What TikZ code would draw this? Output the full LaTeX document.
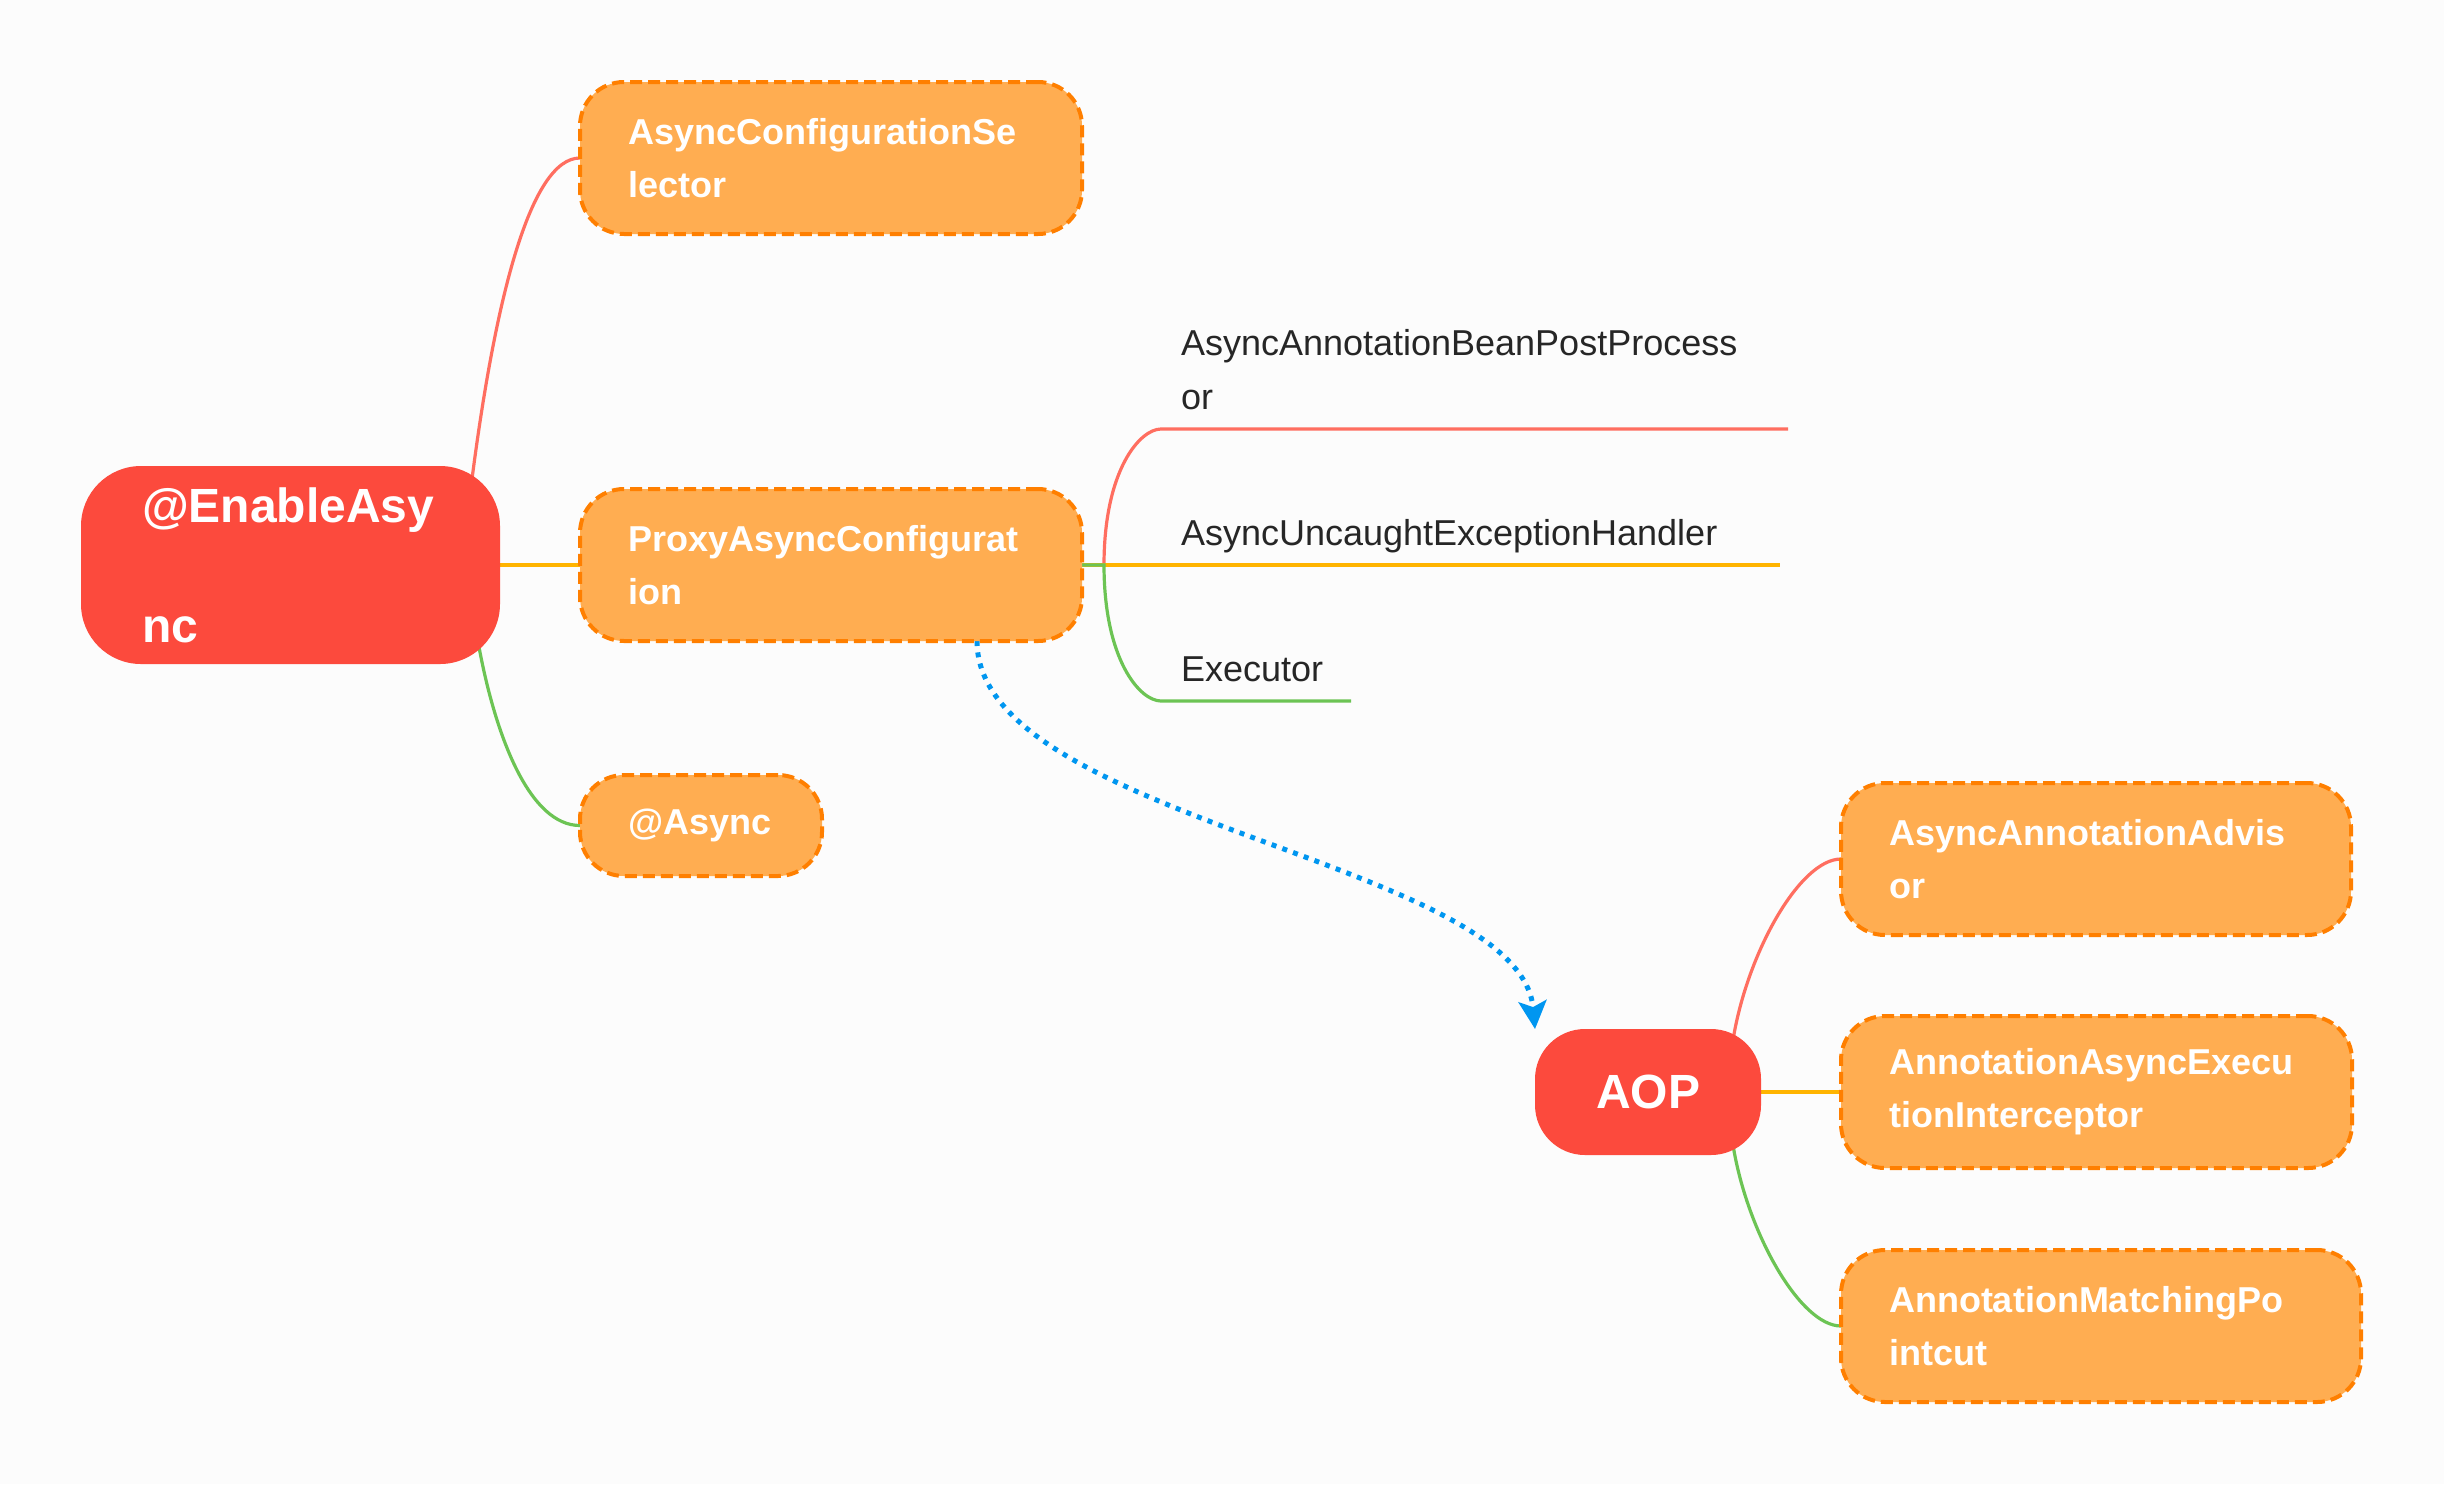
\documentclass[tikz,border=0pt]{standalone}
\usepackage{fontspec}
\setmainfont{Liberation Sans}
\usepackage{xcolor}
\usepackage{tikz}
\usetikzlibrary{positioning}
\usetikzlibrary{arrows.meta}

\definecolor{rootred}{HTML}{FC4A3D}
\definecolor{boxfill}{HTML}{FFAD51}
\definecolor{boxline}{HTML}{FF7F00}
\definecolor{linkred}{HTML}{FF6E60}
\definecolor{linkyellow}{HTML}{FFB400}
\definecolor{linkgreen}{HTML}{6CC454}
\definecolor{arrowblue}{HTML}{0096F0}
\definecolor{plaintext}{HTML}{262626}
\definecolor{page}{HTML}{FCFCFC}

\pgfdeclarelayer{background}
\pgfdeclarelayer{links}
\pgfsetlayers{background,links,main}

\begin{document}
\begin{tikzpicture}[x=0.5pt,y=-0.5pt,
        topic/.style={fill=rootred,text=white,rounded corners=30pt,align=left,inner ysep=0pt,outer sep=0pt},
        subtopic/.style={fill=boxfill,draw=boxline,line width=2pt,dash pattern=on 6pt off 3pt,rounded corners=22pt,
            text=white,font=\bfseries\fontsize{18}{26.5}\selectfont,align=left,inner xsep=24pt,inner ysep=0pt,
            outer sep=0pt,minimum height=76pt,text width=#1},
        leaf/.style={text=plaintext,font=\fontsize{18}{27}\selectfont,align=left,inner xsep=10pt,inner ysep=9.6pt,
            outer sep=0pt,text width=#1},
        link/.style={draw=#1,line width=1.6pt},
        dotarrow/.style={draw=arrowblue,line width=2.5pt,dash pattern=on 2.5pt off 3.2pt,
            -{Stealth[length=14pt,width=14pt,inset=3pt]}}]
        \useasboundingbox (0,0) rectangle (2444,1484);

        \node[topic,font=\bfseries\fontsize{24}{60}\selectfont,text width=148.5pt,inner xsep=30.5pt,minimum height=99pt] (enable) at (290.5,565) {@EnableAsy\\nc};

        \node[subtopic=203pt,right=40pt of enable] (proxy) {ProxyAsyncConfigurat\\ion};
        \node[subtopic=203pt,above=127.5pt of proxy] (selector) {AsyncConfigurationSe\\lector};
        \node[subtopic=73pt,minimum height=50.5pt,below=67pt of proxy.south west,anchor=north west] (async) {@Async};

        \node[leaf=293.5pt,above right=68pt and 39.5pt of proxy.east] (postproc) {AsyncAnnotationBeanPostProcess\\or};
        \node[leaf=289.5pt,text depth=0pt,right=39.5pt of proxy.east,anchor=south west] (uncaught) {AsyncUncaughtExceptionHandler};
        \node[leaf=75pt,text depth=0pt,below right=68pt and 39.5pt of proxy.east,anchor=south west] (executor) {Executor};

        \node[topic,font=\bfseries\fontsize{24}{28}\selectfont,align=center,rounded corners=25pt,minimum width=113pt,minimum height=63pt,
            below right=194pt and 226.5pt of proxy.south east] (aop) {AOP};

        \node[subtopic=207.5pt,right=40pt of aop] (interceptor) {AnnotationAsyncExecu\\tionInterceptor};
        \node[subtopic=207pt,above=40.5pt of interceptor.north west,anchor=south west] (advisor) {AsyncAnnotationAdvis\\or};
        \node[subtopic=212pt,below=41pt of interceptor.south west,anchor=north west] (pointcut) {AnnotationMatchingPo\\intcut};

        \begin{pgfonlayer}{links}
        \draw[link=linkred] ([xshift=-14pt,yshift=-6.5pt]enable.north east) .. controls +(23,-178) and +(-50,0) .. (selector.west);
        \draw[link=linkyellow] (enable.east) -- (proxy.west);
        \draw[link=linkgreen] ([xshift=-10.5pt,yshift=8.5pt]enable.south east) .. controls +(17,91) and +(-50,0) .. (async.west);

        \draw[link=linkred] (proxy.east) -- ++(22,0) .. controls +(0,-95) and +(-21,0) .. (postproc.south west) -- (postproc.south east);
        \draw[link=linkyellow] (proxy.east) -- (uncaught.south east);
        \draw[link=linkgreen] (proxy.east) -- ++(22,0) .. controls +(0,95) and +(-21,0) .. (executor.south west) -- (executor.south east);

        \draw[link=linkred] ([xshift=-14pt,yshift=-5.5pt]aop.north east) .. controls +(14,-87) and +(-41,0) .. (advisor.west);
        \draw[link=linkyellow] (aop.east) -- (interceptor.west);
        \draw[link=linkgreen] ([xshift=-14pt,yshift=5pt]aop.south east) .. controls +(14,87) and +(-41,0) .. (pointcut.west);

        \draw[dotarrow] ([xshift=73pt]proxy.south) .. controls +(0,179) and +(-15,-168) .. (aop.north west);
        \end{pgfonlayer}

        \begin{pgfonlayer}{background}
        \fill[page] (0,0) rectangle (2444,1484);
        \end{pgfonlayer}
    \end{tikzpicture}
\end{document}
